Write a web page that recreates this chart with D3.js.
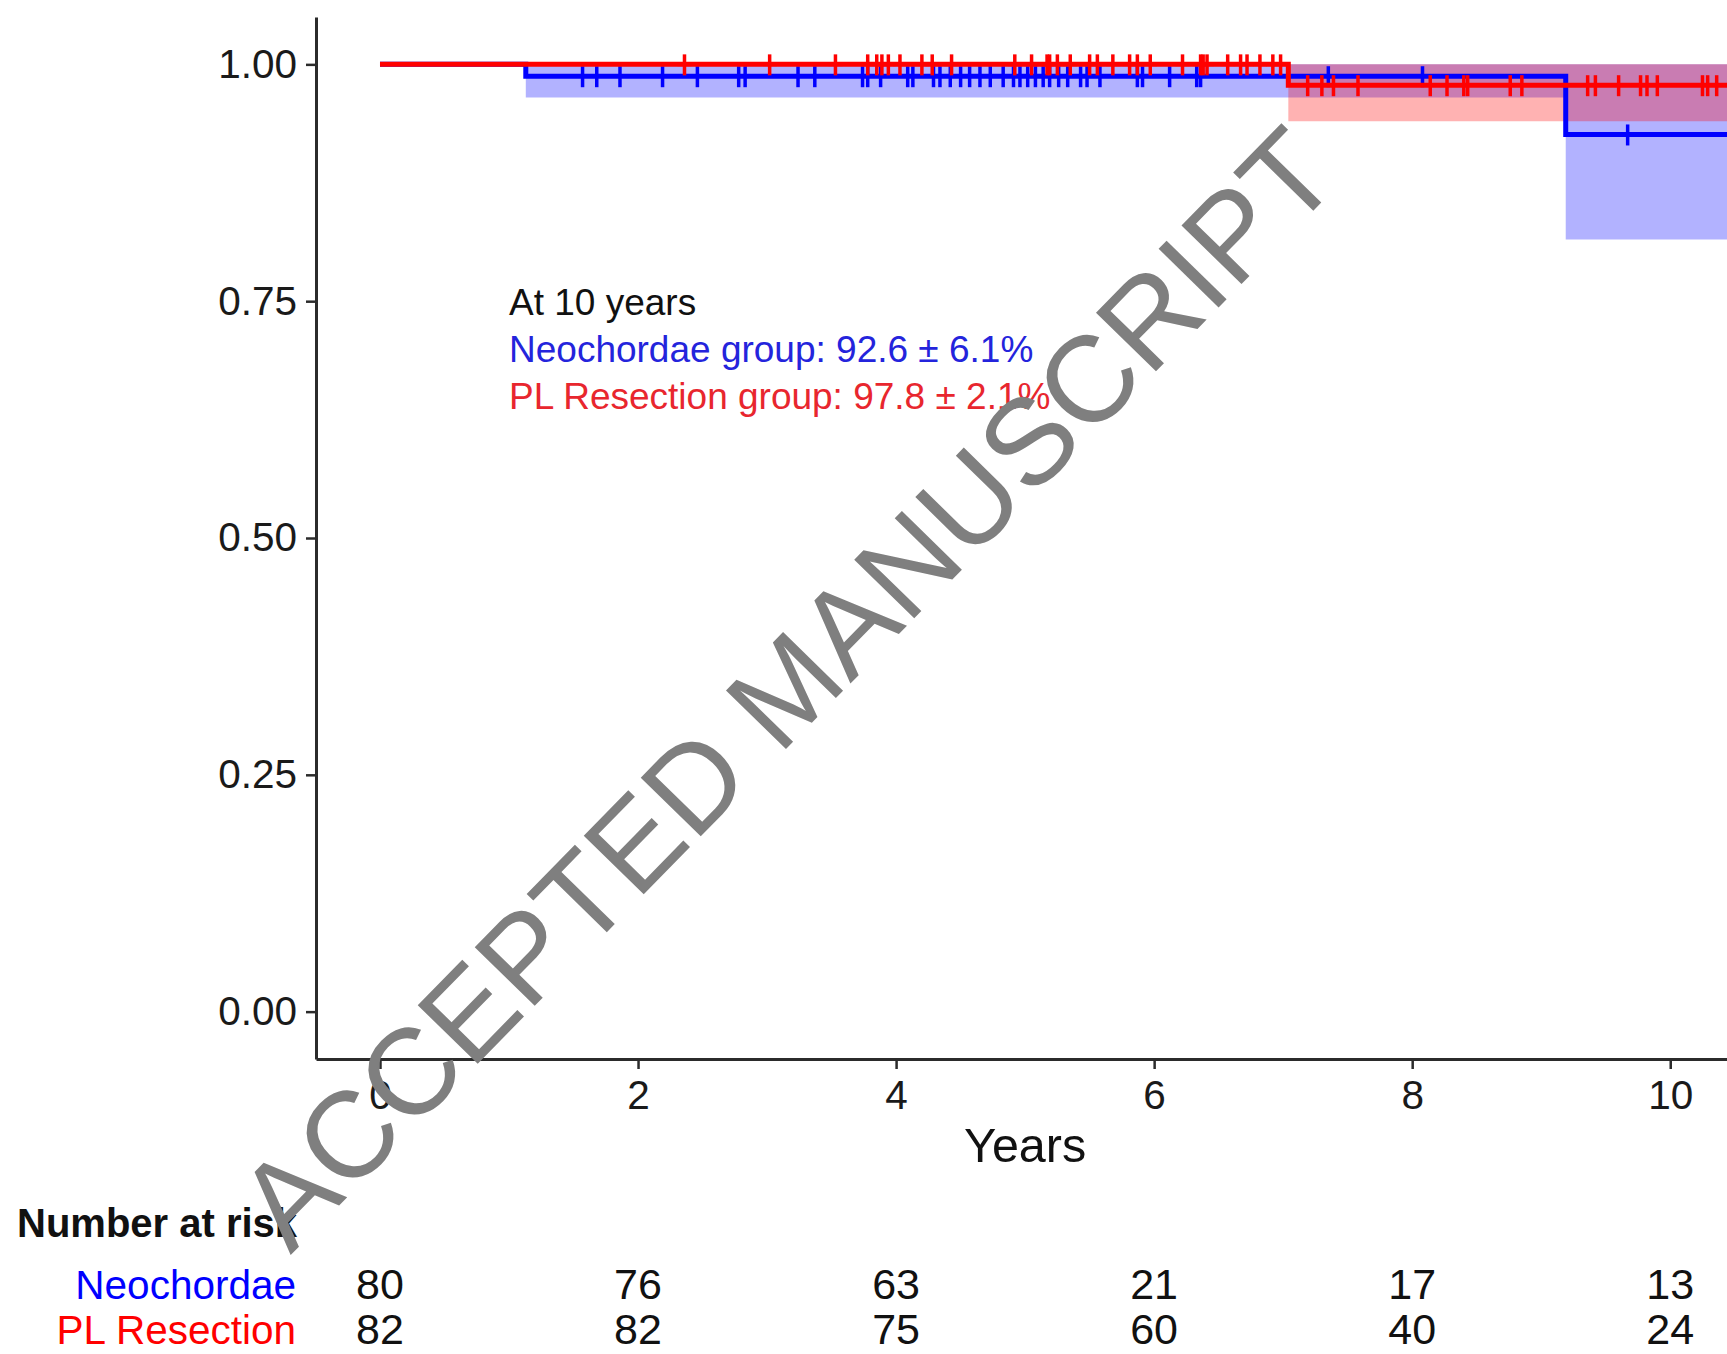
<!DOCTYPE html>
<html>
<head>
<meta charset="utf-8">
<script src="https://cdn.jsdelivr.net/npm/d3@7"></script>
<style>
  html, body { margin: 0; padding: 0; background: #fff; }
  svg { display: block; font-family: "Liberation Sans", Arial, Helvetica, sans-serif; }
</style>
</head>
<body>
<svg id="chart" width="1727" height="1354"></svg>
<script>
// ---------------- DATA ----------------
const groups = ["Neochordae", "PL Resection"];
const groupColors = ["#0000ff", "#ff0000"];

// Kaplan-Meier steps (time in years)
const neoTimes = [0, 1.13, 9.19];
const neoSurv  = [1, 0.9875, 0.926];
const neoLower = [1, 0.965, 0.815];
const neoUpper = [1, 1, 1];

const plTimes = [0, 7.04];
const plSurv  = [1, 0.978];
const plLower = [1, 0.94];
const plUpper = [1, 1];

const curveEnd = 10.6;

// Censoring times
const neoCensor = [1.57, 1.68, 1.86, 2.19, 2.46, 2.78, 2.83, 3.24, 3.37, 3.74, 3.78, 3.88,
  4.09, 4.13, 4.29, 4.34, 4.42, 4.50, 4.57, 4.65, 4.73, 4.83, 4.91, 4.96, 5.02, 5.08, 5.14,
  5.19, 5.26, 5.33, 5.43, 5.48, 5.58, 5.87, 5.91, 6.12, 6.33, 6.36, 7.35, 8.08, 9.67];
const plCensor = [2.36, 3.02, 3.53, 3.78, 3.85, 3.89, 3.94, 4.03, 4.20, 4.28, 4.43, 4.92,
  5.05, 5.17, 5.19, 5.25, 5.35, 5.50, 5.56, 5.68, 5.81, 5.87, 5.97, 6.22, 6.36, 6.38, 6.41,
  6.57, 6.67, 6.72, 6.82, 6.92, 6.98, 7.19, 7.30, 7.39, 7.58, 8.14, 8.27, 8.40, 8.43, 8.76,
  8.85, 9.36, 9.42, 9.60, 9.77, 9.82, 9.90, 10.25, 10.29, 10.36];

// Axis ticks
const xTicks = [0, 2, 4, 6, 8, 10];
const yTicks = [0, 0.25, 0.5, 0.75, 1];

// Number at risk
const riskTimes = [0, 2, 4, 6, 8, 10];
const riskNeo = [80, 76, 63, 21, 17, 13];
const riskPL  = [82, 82, 75, 60, 40, 24];

// Annotation
const annoLines = ["At 10 years", "Neochordae group: 92.6 \u00b1 6.1%", "PL Resection group: 97.8 \u00b1 2.1%"];
const annoColors = ["#111111", "#2424dc", "#e8262e"];

const watermark = "ACCEPTED MANUSCRIPT";

// ---------------- LAYOUT ----------------
const svg = d3.select("#chart");
const W = 1727, H = 1354;
const x = d3.scaleLinear().domain([-0.496, 10.44]).range([316, 1727]);
const y = d3.scaleLinear().domain([-0.05, 1.05]).range([1059, 17]);

const defs = svg.append("defs");
defs.append("clipPath").attr("id", "plotclip")
  .append("rect").attr("x", 316).attr("y", 0).attr("width", W - 316).attr("height", 1059);

const series = [
  {times: neoTimes, surv: neoSurv, lower: neoLower, upper: neoUpper, censor: neoCensor, color: groupColors[0]},
  {times: plTimes, surv: plSurv, lower: plLower, upper: plUpper, censor: plCensor, color: groupColors[1]}
];
series.forEach(s => {
  s.pts = s.times.map((t, i) => ({t, s: s.surv[i], lo: s.lower[i], hi: s.upper[i]}));
  const last = s.pts[s.pts.length - 1];
  s.pts.push({t: curveEnd, s: last.s, lo: last.lo, hi: last.hi});
});
function survAt(s, t) {
  let v = s.surv[0];
  for (let i = 0; i < s.times.length; i++) if (s.times[i] <= t) v = s.surv[i];
  return v;
}

const plot = svg.append("g").attr("clip-path", "url(#plotclip)");

// Confidence bands
const area = d3.area().curve(d3.curveStepAfter)
  .x(d => x(d.t)).y0(d => y(d.lo)).y1(d => y(d.hi));
series.forEach(s => {
  plot.append("path").attr("d", area(s.pts))
    .attr("fill", s.color).attr("fill-opacity", 0.3).attr("stroke", "none");
});

// Survival lines + censor marks
const line = d3.line().curve(d3.curveStepAfter).x(d => x(d.t)).y(d => y(d.s));
series.forEach(s => {
  plot.append("path").attr("d", line(s.pts))
    .attr("fill", "none").attr("stroke", s.color).attr("stroke-width", 5);
  const g = plot.append("g").attr("stroke", s.color).attr("stroke-width", 3.5);
  s.censor.forEach(t => {
    const cx = x(t), cy = y(survAt(s, t));
    g.append("line").attr("x1", cx).attr("x2", cx).attr("y1", cy - 10).attr("y2", cy + 11);
    g.append("line").attr("x1", cx - 7).attr("x2", cx + 7).attr("y1", cy).attr("y2", cy);
  });
});

// Axes
const axisColor = "#2b2b2b";
const xAxis = svg.append("g").attr("transform", `translate(0,${y(-0.05)})`)
  .call(d3.axisBottom(x).tickValues(xTicks).tickFormat(d3.format("d")).tickSize(10).tickPadding(11).tickSizeOuter(0));
const yAxis = svg.append("g").attr("transform", `translate(${x(-0.496)},0)`)
  .call(d3.axisLeft(y).tickValues(yTicks).tickFormat(d3.format(".2f")).tickSize(10).tickPadding(9).tickSizeOuter(0));
[xAxis, yAxis].forEach(a => {
  a.select(".domain").attr("stroke", axisColor).attr("stroke-width", 3);
  a.selectAll(".tick line").attr("stroke", axisColor).attr("stroke-width", 2.5);
  a.selectAll(".tick text").attr("fill", "#1a1a1a").attr("font-size", 40.5)
    .attr("font-family", '"Liberation Sans", Arial, sans-serif');
});

// Axis title
svg.append("text").attr("x", x(5)).attr("y", 1162).attr("text-anchor", "middle")
  .attr("font-size", 48.5).attr("fill", "#111").text("Years");

// Annotation
annoLines.forEach((t, i) => {
  svg.append("text").attr("x", x(1)).attr("y", y(0.735) + i * 47)
    .attr("font-size", 37).attr("fill", annoColors[i]).text(t);
});

// Number at risk table
svg.append("text").attr("x", 17).attr("y", 1237).attr("font-size", 40).attr("font-weight", "bold")
  .attr("fill", "#111").text("Number at risk");
const riskRows = [riskNeo, riskPL];
const rowY = [1299, 1344];
riskRows.forEach((row, r) => {
  svg.append("text").attr("x", 296).attr("y", rowY[r]).attr("text-anchor", "end")
    .attr("font-size", 40.5).attr("fill", groupColors[r]).text(groups[r]);
  row.forEach((v, i) => {
    svg.append("text").attr("x", x(riskTimes[i])).attr("y", rowY[r]).attr("text-anchor", "middle")
      .attr("font-size", 43).attr("fill", "#111").text(v);
  });
});

// Watermark
svg.append("text")
  .attr("transform", "translate(794,695) rotate(-45.6)")
  .attr("text-anchor", "middle").attr("dominant-baseline", "middle")
  .attr("font-size", 122).attr("fill", "#7f7f7f")
  .text(watermark);
</script>
</body>
</html>
